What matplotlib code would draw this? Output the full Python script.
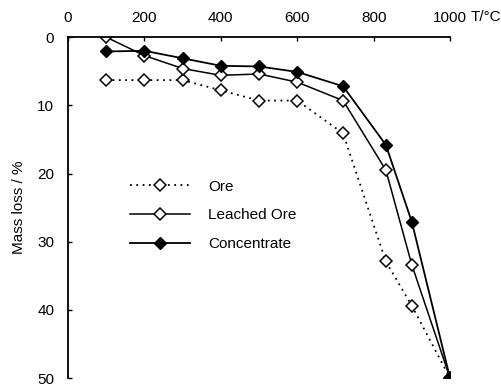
import matplotlib
matplotlib.use("Agg")
import matplotlib.pyplot as plt

plt.rcParams['font.family'] = ['Liberation Sans', 'DejaVu Sans']

# temperature (°C) and mass loss (%)
temp = [100, 200, 300, 400, 500, 600, 720, 832, 900, 1000]
ore = [6.3, 6.3, 6.3, 7.8, 9.3, 9.3, 14.1, 32.9, 39.4, 50.0]
leached = [0.0, 2.7, 4.6, 5.6, 5.4, 6.6, 9.3, 19.5, 33.4, 50.0]
conc = [2.1, 2.0, 3.1, 4.2, 4.3, 5.1, 7.2, 15.8, 27.1, 50.0]

xticks = [0, 200, 400, 600, 800, 1000]
yticks = [0, 10, 20, 30, 40, 50]

fig = plt.figure(figsize=(5.02, 3.87), dpi=100)
ax = fig.add_axes([0.1355, 0.023, 0.761, 0.881])

ax.plot(temp, ore, ls=(0, (1, 2.5)), color='black', lw=1.3, marker='D', ms=6,
        mfc='white', mec='black', mew=1.1, label='Ore')
ax.plot(temp, leached, ls='-', color='black', lw=1.1, marker='D', ms=6,
        mfc='white', mec='black', mew=1.1, label='Leached Ore')
ax.plot(temp, conc, ls='-', color='black', lw=1.3, marker='D', ms=6,
        mfc='black', mec='black', label='Concentrate')

ax.set_xlim(0, 1000)
ax.set_ylim(50, 0)
ax.set_xticks(xticks)
ax.set_yticks(yticks)
ax.xaxis.tick_top()
ax.spines['right'].set_visible(False)
ax.spines['bottom'].set_visible(False)
ax.spines['top'].set_linewidth(1.3)
ax.spines['left'].set_linewidth(1.3)
ax.tick_params(axis='both', direction='in', length=3, width=1, labelsize=11)
ax.tick_params(axis='x', pad=9)
ax.tick_params(axis='y', pad=10)

ax.text(1.055, 1.06, 'T/°C', transform=ax.transAxes, fontsize=11, va='center', ha='left')
ax.set_ylabel('Mass loss / %', fontsize=11, labelpad=8)

ax.legend(loc='upper left', bbox_to_anchor=(0.147, 0.600), frameon=False, fontsize=11,
          handlelength=3.9, labelspacing=0.97, handletextpad=1.2, borderaxespad=0)

fig.savefig('out.png', dpi=100)
